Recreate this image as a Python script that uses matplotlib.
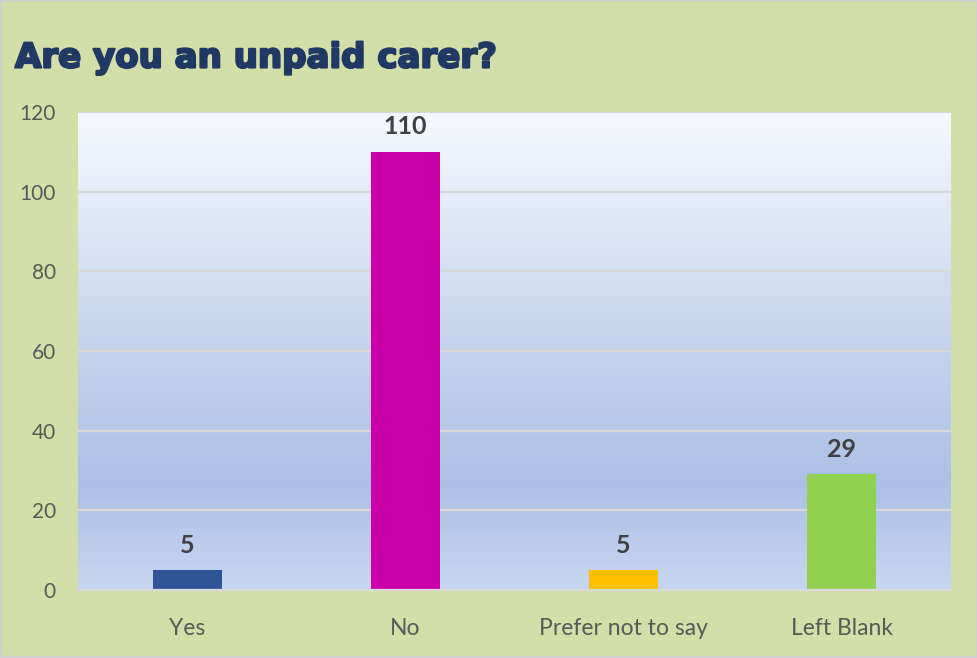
import matplotlib
matplotlib.use("Agg")
import matplotlib.pyplot as plt
import matplotlib.patheffects as pe
import numpy as np
from matplotlib.colors import LinearSegmentedColormap

categories = ["Yes", "No", "Prefer not to say", "Left Blank"]
values = [5, 110, 5, 29]
bar_colors = ["#2F5597", "#CC00AA", "#FFC000", "#92D050"]
yticks = [0, 20, 40, 60, 80, 100, 120]

W, H = 978, 658
fig = plt.figure(figsize=(W/100, H/100), dpi=100, facecolor="#D3DFA8")
fig.patches.append(plt.Rectangle((0, 0), 1, 1, transform=fig.transFigure,
                                 fill=False, edgecolor="#D0D0D0", linewidth=3))

left, right, top, bottom = 78, 951, 112, 590
ax = fig.add_axes([left/W, 1 - bottom/H, (right-left)/W, (bottom-top)/H])

n = len(categories)
ax.set_xlim(-0.5, n - 0.5)
ax.set_ylim(0, 120)

# gradient background
cmap = LinearSegmentedColormap.from_list("bg", [
    (0.0, "#C8D7F0"), (0.22, "#ABC0E4"), (0.55, "#C9D6EE"), (1.0, "#F7F9FE")])
grad = np.linspace(0, 1, 256).reshape(-1, 1)
ax.imshow(grad, extent=(-0.5, n - 0.5, 0, 120), origin="lower", aspect="auto",
          cmap=cmap, zorder=0)

for y in yticks[1:]:
    ax.axhline(y, color="#D9D9D9", linewidth=1.6, zorder=1)

x = np.arange(n)
ax.bar(x, values, width=0.316, color=bar_colors, zorder=2)

for xi, v in zip(x, values):
    ax.text(xi, v + 3.4, str(v), ha="center", va="bottom", fontsize=18,
            fontweight="bold", color="#404040", family="Lato")

ax.set_xticks(x)
ax.set_xticklabels(categories, fontsize=16.5, color="#595959", family="Lato")
ax.set_yticks(yticks)
ax.set_yticklabels([str(t) for t in yticks], fontsize=15, color="#595959", family="Lato")
ax.tick_params(axis="both", length=0)
ax.tick_params(axis="x", pad=20)
ax.tick_params(axis="y", pad=16)

for s in ["top", "right", "left"]:
    ax.spines[s].set_visible(False)
ax.spines["bottom"].set_color("#D9D9D9")
ax.spines["bottom"].set_linewidth(1.6)

fig.text(15/W, 1 - 58/H, "Are you an unpaid carer?", fontsize=24.5, fontweight="bold",
         color="#1F3864", family="DejaVu Sans", va="center", ha="left",
         path_effects=[pe.withStroke(linewidth=1.6, foreground="#1F3864")])

fig.savefig("out.png", dpi=100, facecolor=fig.get_facecolor())
